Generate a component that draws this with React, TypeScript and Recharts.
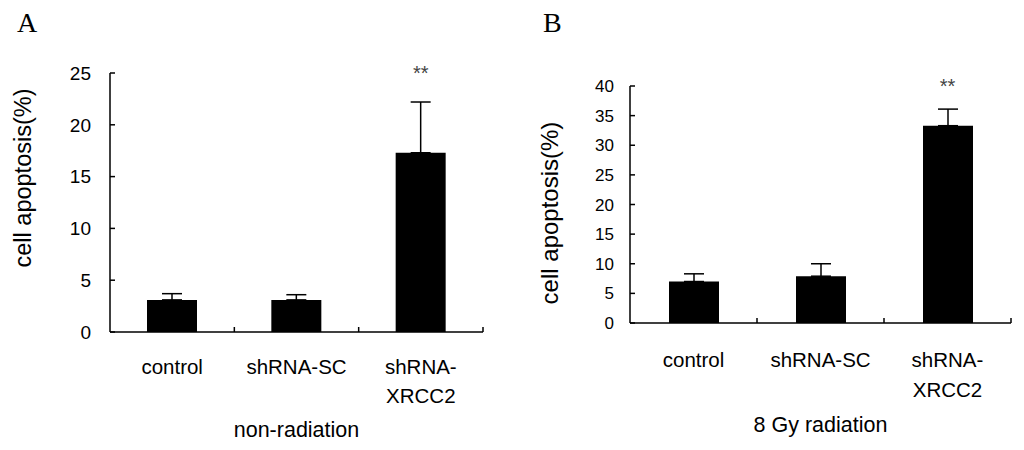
import React from 'react';
import { BarChart, Bar, XAxis, YAxis, ErrorBar, ReferenceDot } from 'recharts';

const categories = ['control', 'shRNA-SC', 'shRNA-\nXRCC2'];
const significance = ['', '', '**'];

// panel A: non-radiation
const nonRadiationMeans = [3.1, 3.1, 17.3];
const nonRadiationErrors = [0.6, 0.5, 4.9];
const nonRadiationTicks = [0, 5, 10, 15, 20, 25];

// panel B: 8 Gy radiation
const radiationMeans = [7.0, 7.9, 33.3];
const radiationErrors = [1.3, 2.1, 2.8];
const radiationTicks = [0, 5, 10, 15, 20, 25, 30, 35, 40];

const SANS = '"Liberation Sans", Arial, sans-serif';
const SERIF = '"Liberation Serif", "Times New Roman", serif';

const CategoryTick = (props: any) => {
  const { x, y, payload, width, visibleTicksCount, labelMargin, lineGap } = props;
  const band = width / visibleTicksCount;
  const axisY = y - labelMargin;
  const lines = String(payload.value).split('\n');
  return (
    <g>
      <line x1={x + band / 2} x2={x + band / 2} y1={axisY} y2={axisY - 5} stroke="#000" strokeWidth={1.5} />
      <text x={x} y={y} textAnchor="middle" fontSize={20.5} fill="#000" fontFamily={SANS}>
        {lines.map((l, i) => (
          <tspan key={i} x={x} dy={i === 0 ? 0 : lineGap}>
            {l}
          </tspan>
        ))}
      </text>
    </g>
  );
};

interface PanelProps {
  means: number[];
  errors: number[];
  ticks: number[];
  title: string;
  left: number;
  margin: { top: number; right: number; bottom: number; left: number };
  yTickMargin: number;
  yTickFont: number;
  labelMargin: number;
  lineGap: number;
  titleOffset: number;
}

const Panel = (p: PanelProps) => {
  const data = categories.map((name, i) => ({
    name,
    value: p.means[i],
    err: [0, p.errors[i]],
  }));
  const yMax = p.ticks[p.ticks.length - 1];
  return (
    <div style={{ position: 'absolute', left: p.left, top: 0 }}>
      <BarChart width={512} height={450} data={data} margin={p.margin}>
        <XAxis
          dataKey="name"
          interval={0}
          tickSize={0}
          tickMargin={p.labelMargin}
          height={110}
          axisLine={{ stroke: '#000', strokeWidth: 1.5 }}
          tickLine={false}
          tick={(t: any) => <CategoryTick {...t} labelMargin={p.labelMargin} lineGap={p.lineGap} />}
          label={{
            value: p.title,
            position: 'insideBottom',
            offset: p.titleOffset,
            fill: '#000',
            fontSize: 21.5,
            fontFamily: SANS,
          }}
        />
        <YAxis
          type="number"
          domain={[0, yMax]}
          ticks={p.ticks}
          interval={0}
          width={100}
          tickSize={-5}
          tickMargin={p.yTickMargin}
          axisLine={{ stroke: '#000', strokeWidth: 1.5 }}
          tickLine={{ stroke: '#000', strokeWidth: 1.5 }}
          tick={{ fill: '#000', fontSize: p.yTickFont, fontFamily: SANS }}
        />
        <Bar dataKey="value" fill="#000" barSize={50} isAnimationActive={false}>
          <ErrorBar dataKey="err" width={10} stroke="#000" strokeWidth={1.5} />
        </Bar>
        {categories.map((c, i) =>
          significance[i] ? (
            <ReferenceDot
              key={c}
              x={c}
              y={yMax}
              r={0}
              ifOverflow="visible"
              label={{ value: significance[i], position: 'center', fill: '#444', fontSize: 20, fontFamily: SANS }}
            />
          ) : null
        )}
      </BarChart>
    </div>
  );
};

export default function App() {
  return (
    <div style={{ position: 'fixed', left: 0, top: 0, width: 1024, height: 450, background: '#fff' }}>
      <Panel
        means={nonRadiationMeans}
        errors={nonRadiationErrors}
        ticks={nonRadiationTicks}
        title="non-radiation"
        left={0}
        margin={{ top: 73, right: 29, bottom: 8, left: 10 }}
        yTickMargin={24}
        yTickFont={19}
        labelMargin={42}
        lineGap={29}
        titleOffset={5}
      />
      <Panel
        means={radiationMeans}
        errors={radiationErrors}
        ticks={radiationTicks}
        title="8 Gy radiation"
        left={512}
        margin={{ top: 86, right: 13, bottom: 17, left: 18 }}
        yTickMargin={21}
        yTickFont={17}
        labelMargin={44}
        lineGap={30}
        titleOffset={1}
      />
      <svg width={1024} height={450} style={{ position: 'absolute', left: 0, top: 0, pointerEvents: 'none' }}>
        <text x={17} y={32} fontSize={28} fontFamily={SERIF} fill="#000">A</text>
        <text x={543} y={32} fontSize={28} fontFamily={SERIF} fill="#000">B</text>
        <text
          transform="rotate(-90)"
          x={-178}
          y={23}
          textAnchor="middle"
          dominantBaseline="central"
          fontSize={23.5}
          fontFamily={SANS}
          fill="#000"
        >
          cell apoptosis(%)
        </text>
        <text
          transform="rotate(-90)"
          x={-213}
          y={549}
          textAnchor="middle"
          dominantBaseline="central"
          fontSize={24}
          fontFamily={SANS}
          fill="#000"
        >
          cell apoptosis(%)
        </text>
      </svg>
    </div>
  );
}
